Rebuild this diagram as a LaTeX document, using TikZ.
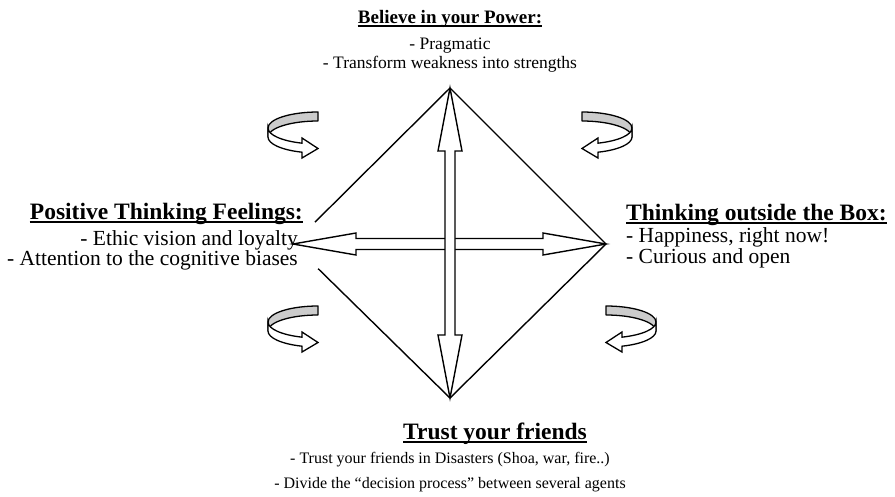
\documentclass[tikz,border=0pt]{standalone}
\usepackage{fontspec}
\setmainfont{Liberation Serif}
\usetikzlibrary{calc}
\tikzset{
  heading/.style={font=\fontsize{19}{22}\selectfont\bfseries, inner sep=0pt},
  bigheading/.style={font=\fontsize{23.5}{26}\selectfont\bfseries, inner sep=0pt},
  bodytext/.style={font=\fontsize{17.5}{20}\selectfont, inner sep=0pt},
  smalltext/.style={font=\fontsize{16}{19}\selectfont, inner sep=0pt},
  bigtext/.style={font=\fontsize{21.5}{24}\selectfont, inner sep=0pt},
  ulrule/.style={line width=1.4pt},
  outline/.style={draw=black, line width=1.4pt, line join=round},
  hollowarrow/.style={draw=black, fill=white, line width=1.4pt, line join=miter},
  backband/.style={draw=black, fill=gray!40, line width=1.3pt, line join=round},
  frontband/.style={draw=black, fill=white, line width=1.3pt, line join=miter},
}
% twisted ribbon arrow, drawn for the upper left place
\newcommand{\twistarrow}{%
  \draw[backband] (318,112) arc[start angle=270, end angle=180, x radius=50, y radius=16]
    -- ++(0,9) arc[start angle=180, end angle=270, x radius=50, y radius=16] -- cycle;
  \draw[frontband] (268,128) arc[start angle=180, end angle=108.66, x radius=50, y radius=16]
    -- (302,138) -- (318,148.5) -- (302,158) -- (302,152.2)
    arc[start angle=108.66, end angle=180, x radius=50, y radius=16] -- cycle;
}

\begin{document}
\begin{tikzpicture}[x=1pt, y=-1pt]
  \useasboundingbox[fill=white] (0,0) rectangle (895,496);

  % corners of the square
  \coordinate (top) at (450,88);
  \coordinate (right) at (606,244);
  \coordinate (bottom) at (450,398);
  \coordinate (left) at (293,244);

  \draw[outline] ($(top)!0.86!(left)$) -- (top) -- (right) -- (bottom) -- ($(bottom)!0.84!(left)$);

  % two hollow double arrows
  \draw[hollowarrow] (left) -- ++(63,-11) -- ++(0,5.5) -- ($(right)+(-63,-5.5)$) -- ++(0,-5.5)
    -- (right) -- ++(-63,11) -- ++(0,-5.5) -- ($(left)+(63,5.5)$) -- ++(0,5.5) -- cycle;
  \draw[hollowarrow] (top) -- ++(12,63) -- ++(-7,0) -- ($(bottom)+(5,-63)$) -- ++(7,0)
    -- (bottom) -- ++(-12,-63) -- ++(7,0) -- ($(top)+(-5,63)$) -- ++(-7,0) -- cycle;

  % turning arrows
  \begin{scope}
    \twistarrow
  \end{scope}
  \begin{scope}[shift={(900,0)}, xscale=-1]
    \twistarrow
  \end{scope}
  \begin{scope}[shift={(0,194)}]
    \twistarrow
  \end{scope}
  \begin{scope}[shift={(924,194)}, xscale=-1]
    \twistarrow
  \end{scope}

  % top
  \node[heading, anchor=base] (believe) at (450,23) {Believe in your Power:};
  \draw[ulrule] ([yshift=-3pt]believe.base west) -- ([yshift=-3pt]believe.base east);
  \node[bodytext, anchor=base] (believe1) at (450,49) {- Pragmatic};
  \node[bodytext, anchor=base] (believe2) at (450,68) {- Transform weakness into strengths};

  % left
  \node[bigheading, anchor=base east] (positive) at (303,219) {Positive Thinking Feelings:};
  \draw[ulrule] ([yshift=-3pt]positive.base west) -- ([yshift=-3pt]positive.base east);
  \node[bigtext, anchor=base east] (positive1) at (298,245) {- Ethic vision and loyalty};
  \node[bigtext, anchor=base east] (positive2) at (298,265.5) {- Attention to the cognitive biases};

  % right
  \node[bigheading, anchor=base west] (outside) at (626,220) {Thinking outside the Box:};
  \draw[ulrule] ([yshift=-3pt]outside.base west) -- ([yshift=-3pt]outside.base east);
  \node[bigtext, anchor=base west] (outside1) at (626,242) {- Happiness, right now!};
  \node[bigtext, anchor=base west] (outside2) at (626,263) {- Curious and open};

  % bottom
  \node[bigheading, anchor=base west] (trust) at (403,439) {Trust your friends};
  \draw[ulrule] ([yshift=-3pt]trust.base west) -- ([yshift=-3pt]trust.base east);
  \node[smalltext, anchor=base] (trust1) at (450,463) {- Trust your friends in Disasters (Shoa, war, fire..)};
  \node[smalltext, anchor=base] (trust2) at (450,488) {- Divide the “decision process” between several agents};
\end{tikzpicture}
\end{document}
